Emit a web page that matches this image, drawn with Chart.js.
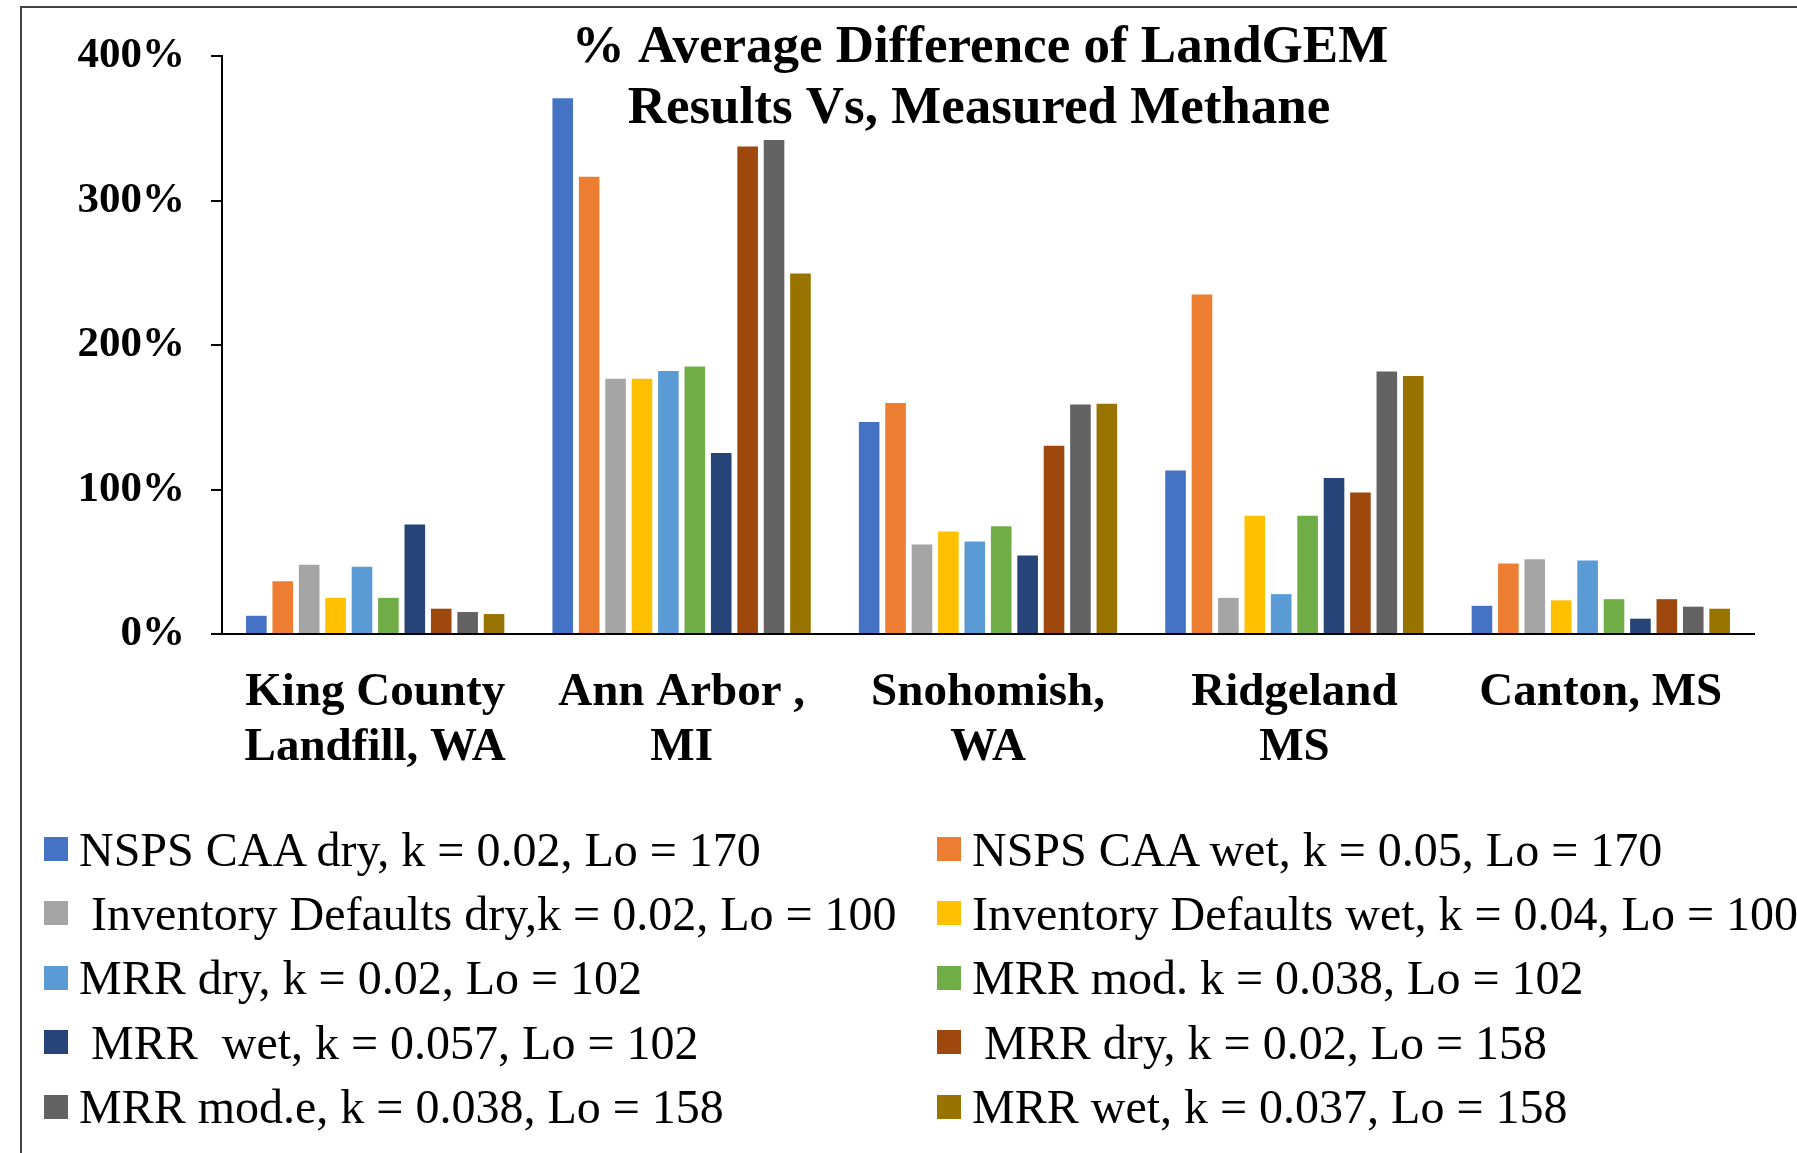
<!DOCTYPE html>
<html>
<head>
<meta charset="utf-8">
<script src="https://cdn.jsdelivr.net/npm/chart.js@4.4.1/dist/chart.umd.min.js"></script>
<style>
  body { margin: 0; width: 1797px; height: 1153px; overflow: hidden; background: #fff; position: relative; }
  #frame { position: absolute; left: 20px; top: 6px; width: 1900px; height: 1300px; border-left: 2px solid #444; border-top: 2px solid #444; }
  #wrap { position: absolute; left: 0; top: 0; }
  #legend { position: absolute; left: 0; top: 817px; width: 1797px; font-family: "Liberation Serif", "Times New Roman", serif; font-size: 48px; color: #000; }
  .item { position: absolute; height: 64px; display: flex; align-items: center; white-space: pre; }
  .box { width: 24px; height: 24px; margin-right: 11px; flex: none; }
</style>
</head>
<body>
<div id="frame"></div>
<div id="wrap"><canvas id="landgem" width="1797" height="1153"></canvas></div>
<div id="legend"></div>
<script>
const sites = [
  ["King County", "Landfill, WA"],
  ["Ann Arbor ,", "MI"],
  ["Snohomish,", "WA"],
  ["Ridgeland", "MS"],
  ["Canton, MS"],
];
const yTicks = [0, 100, 200, 300, 400];

const seriesNames = [
  "NSPS CAA dry, k = 0.02, Lo = 170",
  "NSPS CAA wet, k = 0.05, Lo = 170",
  " Inventory Defaults dry,k = 0.02, Lo = 100",
  "Inventory Defaults wet, k = 0.04, Lo = 100",
  "MRR dry, k = 0.02, Lo = 102",
  "MRR mod. k = 0.038, Lo = 102",
  " MRR  wet, k = 0.057, Lo = 102",
  " MRR dry, k = 0.02, Lo = 158",
  "MRR mod.e, k = 0.038, Lo = 158",
  "MRR wet, k = 0.037, Lo = 158",
];
const seriesColors = [
  "#4472C4", "#ED7D31", "#A5A5A5", "#FFC000", "#5B9BD5",
  "#70AD47", "#264478", "#9E480E", "#636363", "#997300",
];

// % difference per site, in order of sites
const nspsDry = [12.6, 370.7, 146.7, 113.1, 19.5];
const nspsWet = [36.5, 316.4, 159.9, 234.9, 48.8];
const invDry = [47.9, 176.6, 62.0, 25.0, 51.7];
const invWet = [25.0, 176.6, 70.9, 81.8, 23.3];
const mrrDry102 = [46.5, 182.0, 64.0, 27.6, 50.8];
const mrrMod102 = [25.0, 185.2, 74.6, 81.8, 24.1];
const mrrWet102 = [75.8, 125.2, 54.3, 108.0, 10.6];
const mrrDry158 = [17.5, 337.4, 130.3, 97.9, 24.1];
const mrrMod158 = [15.2, 341.9, 158.8, 181.7, 18.9];
const mrrWet158 = [13.8, 249.5, 159.3, 178.6, 17.5];

const seriesValues = [
  nspsDry, nspsWet, invDry, invWet, mrrDry102,
  mrrMod102, mrrWet102, mrrDry158, mrrMod158, mrrWet158,
];

const serif = "'Liberation Serif', 'Times New Roman', serif";

// title sits over the plot like in the original, so draw it by hand
const titlePlugin = {
  id: "overTitle",
  afterDraw(chart) {
    const ctx = chart.ctx;
    ctx.save();
    ctx.fillStyle = "#000";
    ctx.font = "bold 53px " + serif;
    ctx.textAlign = "center";
    ctx.textBaseline = "alphabetic";
    ctx.fillText("% Average Difference of LandGEM", 980, 62);
    ctx.fillText("Results Vs, Measured Methane", 979, 123);
    ctx.restore();
  },
};

const landgem = new Chart(document.getElementById("landgem"), {
  type: "bar",
  data: {
    labels: sites,
    datasets: seriesNames.map((name, i) => ({
      label: name,
      data: seriesValues[i],
      backgroundColor: seriesColors[i],
      categoryPercentage: 0.862,
      barPercentage: 0.78,
    })),
  },
  options: {
    responsive: false,
    animation: false,
    layout: { padding: { top: 56, right: 43, left: 0, bottom: 0 } },
    plugins: {
      legend: { display: false },
      tooltip: { enabled: false },
    },
    scales: {
      x: {
        grid: { drawOnChartArea: false, drawTicks: false },
        border: { color: "#000", width: 2 },
        ticks: {
          color: "#000",
          padding: 32,
          maxRotation: 0,
          autoSkip: false,
          font: { family: serif, size: 47, weight: "bold", lineHeight: 1.16 },
        },
        afterFit(scale) { scale.height = 519; },
      },
      y: {
        min: 0,
        max: 400,
        afterBuildTicks(scale) { scale.ticks = yTicks.map((v) => ({ value: v })); },
        grid: { drawOnChartArea: false, drawTicks: true, tickLength: 11, color: "#000", lineWidth: 2 },
        border: { color: "#000", width: 2 },
        ticks: {
          color: "#000",
          padding: 26,
          font: { family: serif, size: 43, weight: "bold" },
          callback: (v) => v + "%",
        },
        afterFit(scale) { scale.width = 222; },
      },
    },
  },
  plugins: [titlePlugin],
});

// two-column legend like the original
const legendBox = document.getElementById("legend");
const colX = [44, 937];
seriesNames.forEach((name, i) => {
  const item = document.createElement("div");
  item.className = "item";
  item.style.left = colX[i % 2] + "px";
  item.style.top = Math.floor(i / 2) * 64.4 + "px";
  const box = document.createElement("span");
  box.className = "box";
  box.style.background = seriesColors[i];
  const txt = document.createElement("span");
  txt.textContent = name;
  item.appendChild(box);
  item.appendChild(txt);
  legendBox.appendChild(item);
});
</script>
</body>
</html>
